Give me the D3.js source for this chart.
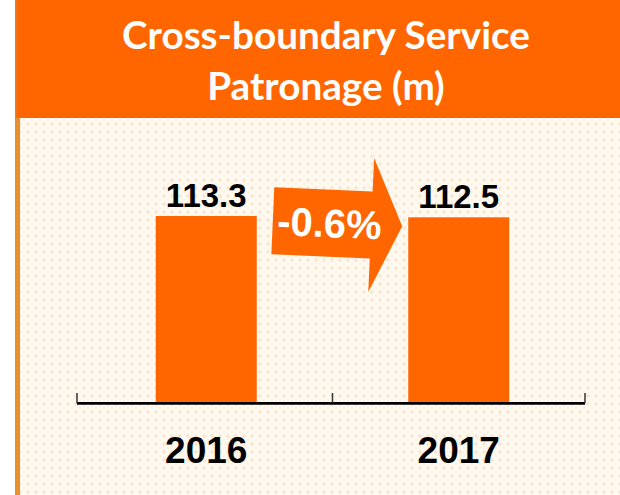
<!DOCTYPE html>
<html><head><meta charset="utf-8">
<script src="https://cdn.jsdelivr.net/npm/d3@7"></script>
<style>html,body{margin:0;padding:0;background:#fff;overflow:hidden}</style>
</head><body>
<script>
const titleLines = ["Cross-boundary Service", "Patronage (m)"];
const years = ["2016", "2017"];
const patronage = [113.3, 112.5];
const changeLabel = "-0.6%";

const W = 620, H = 495;
const svg = d3.select("body").append("svg").attr("width", W).attr("height", H);
const defs = svg.append("defs");
const pat = defs.append("pattern").attr("id", "bgpat").attr("patternUnits", "userSpaceOnUse")
  .attr("width", 8).attr("height", 8);
pat.append("rect").attr("width", 8).attr("height", 8).attr("fill", "#fffaf2");
pat.append("path").attr("d", "M4,1.5V6.5M1.5,4H6.5").attr("stroke", "#fae2c6").attr("stroke-width", 1.2);
pat.append("path").attr("d", "M0,0h1v1h-1zM7,7h1v1h-1zM0,7h1v1h-1zM7,0h1v1h-1z").attr("fill", "#fcefe0");

// background panel
svg.append("rect").attr("x", 20).attr("y", 118).attr("width", W - 20).attr("height", H - 118).attr("fill", "url(#bgpat)");
svg.append("rect").attr("x", 15).attr("y", 118).attr("width", 5).attr("height", H - 118).attr("fill", "#e8902c");
// banner
svg.append("rect").attr("x", 15).attr("y", 0).attr("width", W - 15).attr("height", 118).attr("fill", "#ff6600");
svg.append("rect").attr("x", 15).attr("y", 0).attr("width", 1.5).attr("height", 118).attr("fill", "#e3802a");

const tf = "Lato, 'Open Sans', sans-serif";
const t1 = svg.append("text").attr("x", 326).attr("y", 49).attr("text-anchor", "middle")
  .attr("fill", "#fff").style("font-family", tf).style("font-weight", 700)
  .style("font-size", "34px").text(titleLines[0]);
const len = t1.node().getComputedTextLength();
const fs = 34 * 408 / len;
t1.style("font-size", fs + "px");
svg.append("text").attr("x", 326).attr("y", 100).attr("text-anchor", "middle")
  .attr("fill", "#fff").style("font-family", tf).style("font-weight", 700)
  .style("font-size", fs + "px").text(titleLines[1]);

// scales
const x = d3.scaleBand().domain(years).range([80, 585]).paddingInner(0.6).paddingOuter(0.3);
const y = d3.scaleLinear().domain([0, 120]).range([402, 205]);

svg.selectAll("rect.bar").data(years).join("rect").attr("class", "bar")
  .attr("x", d => x(d)).attr("width", x.bandwidth())
  .attr("y", (d, i) => y(patronage[i])).attr("height", (d, i) => y(0) - y(patronage[i]))
  .attr("fill", "#ff6600");

svg.selectAll("text.val").data(years).join("text").attr("class", "val")
  .attr("x", d => x(d) + x.bandwidth() / 2).attr("y", (d, i) => y(patronage[i]) - 9)
  .attr("text-anchor", "middle").style("font-family", "'Liberation Sans', Arial, sans-serif")
  .style("font-weight", "bold").style("font-size", "33px").attr("fill", "#000")
  .text((d, i) => patronage[i].toFixed(1));

// axis
const axisY = y(0) + 1.3;
const bounds = [77, (x(years[0]) + x.bandwidth() + x(years[1])) / 2, 585];
svg.append("line").attr("x1", bounds[0]).attr("x2", bounds[2]).attr("y1", axisY).attr("y2", axisY)
  .attr("stroke", "#000").attr("stroke-width", 2.8);
svg.selectAll("line.tick").data(bounds).join("line").attr("class", "tick")
  .attr("x1", d => d).attr("x2", d => d).attr("y1", axisY).attr("y2", 393)
  .attr("stroke", "#333").attr("stroke-width", 1.5);

svg.selectAll("text.yr").data(years).join("text").attr("class", "yr")
  .attr("x", d => x(d) + x.bandwidth() / 2).attr("y", 462.5)
  .attr("text-anchor", "middle").style("font-family", "'Liberation Sans', Arial, sans-serif")
  .style("font-weight", "bold").style("font-size", "37px").attr("fill", "#000").text(d => d);

// change arrow between bars
const ax0 = x(years[0]) + x.bandwidth() + 16, ax1 = x(years[1]) - 6;
const acx = (ax0 + ax1) / 2, acy = y(patronage[0]) + 7.5;
const L = ax1 - ax0;
const g = svg.append("g").attr("transform", `translate(${acx},${acy}) rotate(2.5)`);
const hx = L / 2 - 31;
g.append("path").attr("d", `M${-L / 2},-33.5H${hx}V-67L${L / 2},0L${hx},67V33.5H${-L / 2}Z`).attr("fill", "#ff6600");
g.append("text").attr("x", -8).attr("y", 14).attr("text-anchor", "middle")
  .style("font-family", "'Liberation Sans', Arial, sans-serif").style("font-weight", "bold")
  .style("font-size", "40px").attr("fill", "#fff").text(changeLabel);
</script>
</body></html>
